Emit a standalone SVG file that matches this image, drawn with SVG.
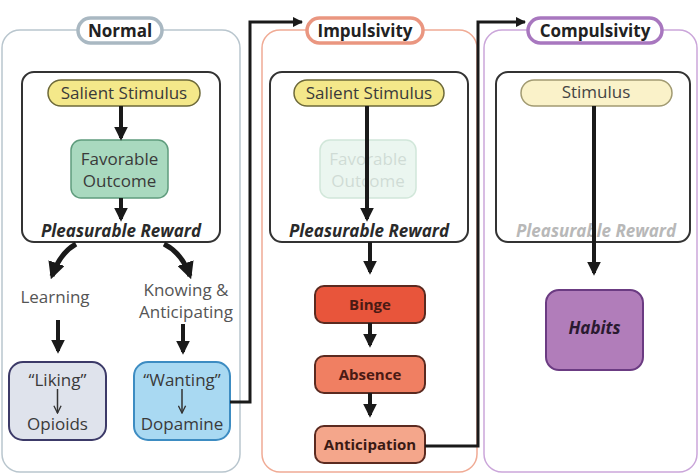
<svg xmlns="http://www.w3.org/2000/svg" width="700" height="474" viewBox="0 0 700 474">
<defs>
<marker id="ah" viewBox="0 0 10 10" refX="8" refY="5" markerWidth="3.4" markerHeight="3.4" orient="auto" markerUnits="strokeWidth">
<path d="M0,0 L10,5 L0,10 z" fill="#1a1a1a"/>
</marker>
<marker id="ahs" viewBox="0 0 10 10" refX="9" refY="5" markerWidth="3.5" markerHeight="3.5" orient="auto" markerUnits="strokeWidth">
<path d="M0,0 L10,5 L0,10 z" fill="#1a1a1a"/>
</marker>
<marker id="thin" viewBox="0 0 10 10" refX="9" refY="5" markerWidth="6" markerHeight="6" orient="auto" markerUnits="strokeWidth">
<path d="M1,1 L9,5 L1,9" fill="none" stroke="#333" stroke-width="1.5"/>
</marker>
</defs>
<style>
text{font-family:"Open Sans","Noto Sans",sans-serif;text-anchor:middle;dominant-baseline:central}
.t{font-size:17px;fill:#3a3a3a}
.b{font-weight:bold;font-size:17px;fill:#222}
.pr{font-weight:bold;font-style:italic;font-size:17px;fill:#2a2a2a}
.inner{fill:#fff;stroke:#333;stroke-width:2}
.arr{stroke:#1a1a1a;stroke-width:4;fill:none;marker-end:url(#ah)}
.carr{stroke:#1a1a1a;stroke-width:5;fill:none;marker-end:url(#ah)}
.conn{stroke:#1a1a1a;stroke-width:3;fill:none;marker-end:url(#ahs)}
.stim{fill:#f4e88a;stroke:#6e6a3a;stroke-width:1.5}
.sb{font-weight:bold;font-size:15px;fill:#4a1a14}
</style>
<rect width="700" height="474" fill="#fff"/>

<g id="panel-normal">
<rect x="2" y="30" width="238" height="442" rx="18" fill="#fff" stroke="#b9c6ce" stroke-width="1.5"/>
<rect x="78" y="18" width="84" height="25" rx="12.5" fill="#fff" stroke="#a9b8c2" stroke-width="3.5"/>
<text x="120" y="30" class="b">Normal</text>
<rect x="22" y="72" width="198" height="170" rx="12" class="inner"/>
</g>

<g id="panel-impulsivity">
<rect x="262" y="30" width="215" height="442" rx="18" fill="#fff" stroke="#f0ab95" stroke-width="1.5"/>
<rect x="307" y="18" width="116" height="25" rx="12.5" fill="#fff" stroke="#ea9680" stroke-width="3.5"/>
<text x="365" y="30" class="b">Impulsivity</text>
<rect x="270" y="72" width="198" height="170" rx="12" class="inner"/>
</g>

<g id="panel-compulsivity">
<rect x="484" y="30" width="213" height="442" rx="18" fill="#fff" stroke="#cba6da" stroke-width="1.5"/>
<rect x="528" y="18" width="134" height="25" rx="12.5" fill="#fff" stroke="#a877bf" stroke-width="3.5"/>
<text x="595" y="30" class="b">Compulsivity</text>
<rect x="496" y="72" width="194" height="170" rx="12" class="inner"/>
</g>

<g id="n-salient1">
<rect x="48" y="80" width="152" height="26" rx="13" class="stim"/>
<text x="124" y="92" class="t">Salient Stimulus</text>
</g>
<g id="n-favorable1">
<rect x="71" y="140" width="97" height="58" rx="10" fill="#a9d9bf" stroke="#5f9c7d" stroke-width="1.5"/>
<text x="119.5" y="158" class="t">Favorable</text>
<text x="119.5" y="180" class="t">Outcome</text>
</g>
<g id="n-reward1"><text x="121" y="230" class="pr">Pleasurable Reward</text></g>
<g id="n-learning"><text x="55" y="296" class="t" style="fill:#555">Learning</text></g>
<g id="n-knowing">
<text x="186" y="289" class="t" style="fill:#555">Knowing &amp;</text>
<text x="186" y="311" class="t" style="fill:#555">Anticipating</text>
</g>
<g id="n-liking">
<rect x="9" y="362" width="97" height="78" rx="14" fill="#dfe3ec" stroke="#3c3a68" stroke-width="2"/>
<text x="57.5" y="379" class="t">“Liking”</text>
<line x1="57.5" y1="389" x2="57.5" y2="413" stroke="#333" stroke-width="1.5" marker-end="url(#thin)"/>
<text x="57.5" y="423" class="t">Opioids</text>
</g>
<g id="n-wanting">
<rect x="134" y="362" width="96" height="78" rx="14" fill="#a9d9f2" stroke="#3d8cc2" stroke-width="2"/>
<text x="182" y="379" class="t">“Wanting”</text>
<line x1="182" y1="389" x2="182" y2="413" stroke="#333" stroke-width="1.5" marker-end="url(#thin)"/>
<text x="182" y="423" class="t">Dopamine</text>
</g>

<g id="n-salient2">
<rect x="294" y="80" width="150" height="26" rx="13" class="stim"/>
<text x="369" y="92" class="t">Salient Stimulus</text>
</g>
<g id="n-favorable2" opacity="0.4">
<rect x="320" y="140" width="96" height="58" rx="10" fill="#cfeada" stroke="#8fc4a4" stroke-width="1.5"/>
<text x="368" y="158" class="t" style="fill:#8aa898">Favorable</text>
<text x="368" y="180" class="t" style="fill:#8aa898">Outcome</text>
</g>
<g id="n-reward2"><text x="369" y="230" class="pr">Pleasurable Reward</text></g>
<g id="n-binge">
<rect x="315" y="286" width="110" height="37" rx="9" fill="#e8553b" stroke="#5b2a20" stroke-width="2"/>
<text x="370" y="304" class="sb">Binge</text>
</g>
<g id="n-absence">
<rect x="315" y="356" width="110" height="37" rx="9" fill="#f07f62" stroke="#5b2a20" stroke-width="2"/>
<text x="370" y="374" class="sb">Absence</text>
</g>
<g id="n-anticipation">
<rect x="315" y="426" width="110" height="37" rx="9" fill="#f4a68b" stroke="#5b2a20" stroke-width="2"/>
<text x="370" y="444" class="sb" style="fill:#3a1a14">Anticipation</text>
</g>

<g id="n-stimulus3">
<rect x="521" y="80" width="151" height="26" rx="13" fill="#faf2c9" stroke="#a29b72" stroke-width="1.5"/>
<text x="596" y="91" class="t" style="fill:#444">Stimulus</text>
</g>
<g id="n-reward3"><text x="596" y="230" class="pr" style="fill:#b8b8b8">Pleasurable Reward</text></g>
<g id="n-habits">
<rect x="546" y="290" width="97" height="80" rx="13" fill="#b17dba" stroke="#6b3b82" stroke-width="2"/>
<text x="594.5" y="327" class="pr" style="fill:#2a1a30">Habits</text>
</g>

<g id="connectors">
<line x1="121" y1="106" x2="121" y2="138" class="arr"/>
<line x1="121" y1="198" x2="121" y2="219" class="arr"/>
<path d="M76,244 Q60,253 52,276" class="carr"/>
<path d="M164,244 Q182,253 190,276" class="carr"/>
<line x1="58" y1="320" x2="58" y2="351" class="arr"/>
<line x1="183" y1="324" x2="183" y2="352" class="arr"/>
<path d="M230,402 H250 V22 H302" class="conn"/>
<line x1="367" y1="106" x2="367" y2="219" class="arr"/>
<line x1="370" y1="242" x2="370" y2="272" class="arr"/>
<line x1="370" y1="323" x2="370" y2="345" class="arr"/>
<line x1="370" y1="393" x2="370" y2="415" class="arr"/>
<path d="M425,446 H478 V22 H525" class="conn"/>
<line x1="594" y1="106" x2="594" y2="273" class="arr"/>
</g>
</svg>
